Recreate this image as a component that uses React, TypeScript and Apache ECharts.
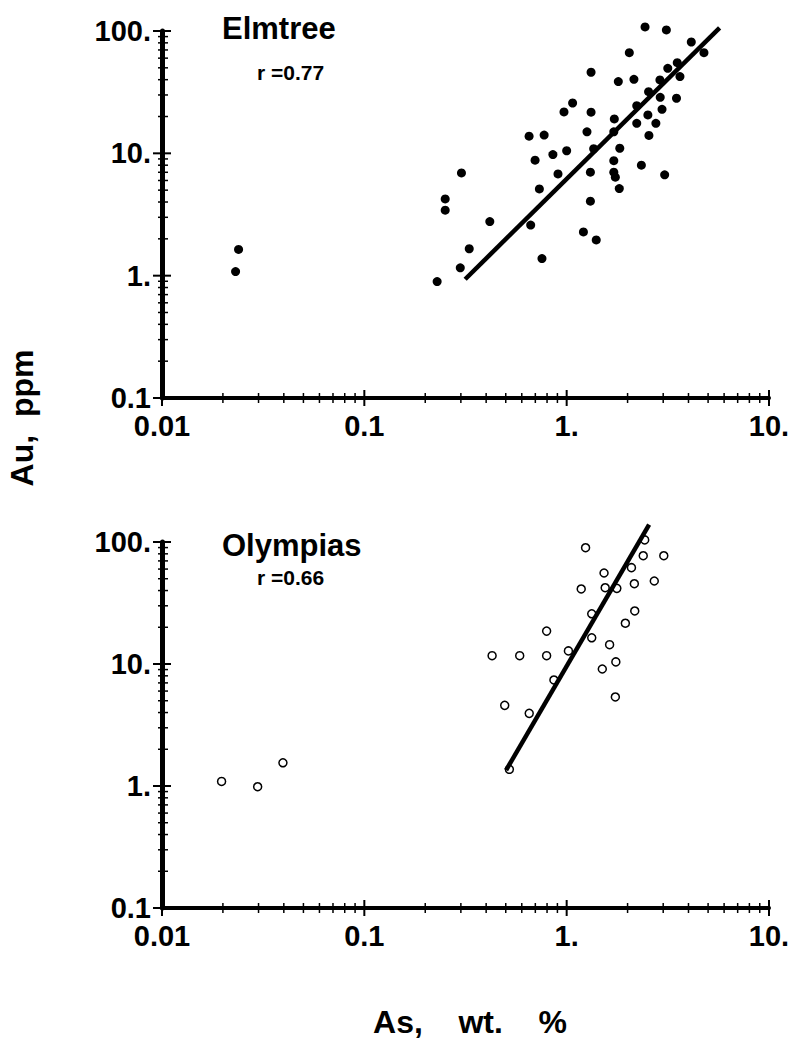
import React, { useEffect, useRef } from "react";
import * as echarts from "echarts";

// Elmtree: [As wt.%, Au ppm]
const elmtreeAs = [2.44, 3.11, 4.13, 4.77, 2.04, 3.52, 3.16, 3.63, 2.89, 2.15, 1.80, 1.32, 2.54, 2.90, 3.49, 2.22, 2.96, 2.52, 2.22, 2.76, 2.55, 1.72, 1.71, 1.32, 1.07, 0.97, 1.26, 0.652, 0.774, 0.698, 0.855, 1.00, 1.36, 1.83, 1.71, 2.34, 3.05, 1.71, 1.74, 1.82, 1.31, 0.906, 0.733, 0.302, 0.251, 0.251, 0.417, 0.664, 1.31, 1.21, 1.40, 0.330, 0.755, 0.298, 0.229, 0.0239, 0.0231];
const elmtreeAu = [108, 102, 81.3, 66.5, 66.5, 55.1, 49.5, 42.4, 39.8, 40.3, 38.6, 46.0, 31.9, 28.7, 28.2, 24.5, 22.9, 20.6, 17.6, 17.6, 14.0, 19.1, 15.0, 21.7, 25.8, 21.8, 15.0, 13.8, 14.1, 8.79, 9.76, 10.5, 10.9, 11.0, 8.71, 8.0, 6.67, 7.01, 6.38, 5.15, 7.01, 6.79, 5.12, 6.92, 4.24, 3.43, 2.77, 2.59, 4.06, 2.28, 1.96, 1.66, 1.38, 1.16, 0.895, 1.64, 1.08];
const elmtreeFitAs = [0.315, 5.7];
const elmtreeFitAu = [0.935, 106];

// Olympias: [As wt.%, Au ppm]
const olympiasAs = [2.43, 1.24, 2.39, 3.02, 2.09, 1.53, 2.16, 2.71, 1.18, 1.55, 1.77, 2.17, 1.33, 1.95, 0.796, 1.33, 1.63, 0.428, 0.586, 0.796, 1.02, 1.75, 1.50, 0.865, 1.74, 0.494, 0.653, 0.521, 0.0197, 0.0297, 0.0396];
const olympiasAu = [104, 89.8, 77.2, 77.2, 61.6, 55.7, 45.5, 47.9, 41.2, 42.2, 41.7, 27.2, 25.8, 21.6, 18.6, 16.4, 14.4, 11.7, 11.7, 11.7, 12.8, 10.4, 9.10, 7.40, 5.37, 4.58, 3.94, 1.37, 1.09, 0.987, 1.55];
const olympiasFitAs = [0.502, 2.556];
const olympiasFitAu = [1.35, 139];

// Axis ranges and tick labels
const xDecades = [0.01, 0.1, 1, 10];
const yDecades = [0.1, 1, 10, 100];
const xTickLabels = ["0.01", "0.1", "1.", "10."];
const yTickLabels = ["0.1", "1.", "10.", "100."];
const minorMultipliers = [2, 3, 4, 5, 6, 7, 8, 9];

const FONT = "'Liberation Sans', Arial, Helvetica, sans-serif";

function tickValues(decades: number[]) {
  const out: [number, number][] = [];
  decades.forEach((d, i) => {
    out.push([d, 1]);
    if (i < decades.length - 1) minorMultipliers.forEach((m) => out.push([+(d * m).toPrecision(6), 0]));
  });
  return out;
}

function zip(a: number[], b: number[]) {
  return a.map((v, i) => [v, b[i]]);
}

function labelFor(labels: number[], texts: string[]) {
  return (v: number) => {
    const idx = labels.findIndex((d) => Math.abs(Math.log10(d) - Math.log10(v)) < 1e-6);
    return idx >= 0 ? texts[idx] : "";
  };
}

export default function App() {
  const ref = useRef<HTMLDivElement>(null);
  useEffect(() => {
    if (!ref.current) return;
    const chart = echarts.init(ref.current, undefined, { renderer: "svg" });
    const xMin = xDecades[0];
    const xMax = xDecades[xDecades.length - 1];
    const yMin = yDecades[0];
    const yMax = yDecades[yDecades.length - 1];
    const xt = tickValues(xDecades);
    const yt = tickValues(yDecades);

    const mkX = (gi: number) => ({
      type: "log",
      logBase: 10,
      gridIndex: gi,
      min: xMin,
      max: xMax,
      axisLine: { lineStyle: { color: "#000", width: 4 } },
      axisTick: { show: false },
      splitLine: { show: false },
      axisLabel: {
        formatter: labelFor(xDecades, xTickLabels),
        color: "#000",
        fontFamily: FONT,
        fontWeight: "bold",
        fontSize: 29,
        margin: 13,
      },
    });
    const mkY = (gi: number) => ({
      type: "log",
      logBase: 10,
      gridIndex: gi,
      min: yMin,
      max: yMax,
      axisLine: { lineStyle: { color: "#000", width: 5 } },
      axisTick: { show: false },
      splitLine: { show: false },
      axisLabel: {
        formatter: labelFor(yDecades, yTickLabels),
        color: "#000",
        fontFamily: FONT,
        fontWeight: "bold",
        fontSize: 29,
        margin: 11,
      },
    });

    const xTickSeries = (gi: number) => ({
      type: "custom",
      xAxisIndex: gi,
      yAxisIndex: gi,
      silent: true,
      data: xt.map(([v, major]) => [v, yMin, major]),
      renderItem: (params: any, api: any) => {
        const p = api.coord([api.value(0), api.value(1)]);
        const major = api.value(2) === 1;
        const h = major ? 8 : 5;
        return {
          type: "line",
          shape: { x1: p[0], y1: p[1] - h, x2: p[0], y2: p[1] + h },
          style: { stroke: "#000", lineWidth: major ? 2 : 1.5 },
        };
      },
    });
    const yTickSeries = (gi: number) => ({
      type: "custom",
      xAxisIndex: gi,
      yAxisIndex: gi,
      silent: true,
      data: yt.map(([v, major]) => [xMin, v, major]),
      renderItem: (params: any, api: any) => {
        const p = api.coord([api.value(0), api.value(1)]);
        const major = api.value(2) === 1;
        return {
          type: "line",
          shape: { x1: p[0] - (major ? 9 : 4), y1: p[1], x2: p[0] + (major ? 9 : 6), y2: p[1] },
          style: { stroke: "#000", lineWidth: major ? 2 : 1.5 },
        };
      },
    });

    const textStyle = (size: number) => ({
      fill: "#000",
      fontFamily: FONT,
      fontWeight: "bold",
      fontSize: size,
    });

    chart.setOption({
      animation: false,
      backgroundColor: "#fff",
      grid: [
        { left: 162, right: 27, top: 31, height: 367 },
        { left: 162, right: 27, top: 542, height: 366 },
      ],
      xAxis: [mkX(0), mkX(1)],
      yAxis: [mkY(0), mkY(1)],
      graphic: [
        { type: "text", left: 222, top: 13, style: { ...textStyle(31), text: "Elmtree" } },
        { type: "text", left: 257, top: 62, style: { ...textStyle(21), text: "r =0.77" } },
        { type: "text", left: 222, top: 530, style: { ...textStyle(31), text: "Olympias" } },
        { type: "text", left: 257, top: 567, style: { ...textStyle(21), text: "r =0.66" } },
        {
          type: "text",
          x: 22,
          y: 418,
          rotation: Math.PI / 2,
          style: { ...textStyle(32), text: "Au,  ppm", align: "center", verticalAlign: "middle" },
        },
        {
          type: "text",
          x: 470,
          y: 1022,
          style: { ...textStyle(32), text: "As,    wt.    %", align: "center", verticalAlign: "middle" },
        },
      ],
      series: [
        xTickSeries(0),
        yTickSeries(0),
        xTickSeries(1),
        yTickSeries(1),
        {
          type: "scatter",
          xAxisIndex: 0,
          yAxisIndex: 0,
          clip: false,
          symbol: "circle",
          symbolSize: 9,
          itemStyle: { color: "#000", opacity: 1 },
          data: zip(elmtreeAs, elmtreeAu),
        },
        {
          type: "line",
          xAxisIndex: 0,
          yAxisIndex: 0,
          clip: false,
          showSymbol: false,
          lineStyle: { color: "#000", width: 4.5 },
          data: zip(elmtreeFitAs, elmtreeFitAu),
        },
        {
          type: "scatter",
          xAxisIndex: 1,
          yAxisIndex: 1,
          clip: false,
          symbol: "circle",
          symbolSize: 8,
          itemStyle: { color: "#fff", borderColor: "#000", borderWidth: 1.5, opacity: 1 },
          data: zip(olympiasAs, olympiasAu),
        },
        {
          type: "line",
          xAxisIndex: 1,
          yAxisIndex: 1,
          clip: false,
          showSymbol: false,
          lineStyle: { color: "#000", width: 4.5 },
          data: zip(olympiasFitAs, olympiasFitAu),
        },
      ],
    });
    return () => chart.dispose();
  }, []);
  return (
    <div
      ref={ref}
      style={{ position: "absolute", left: 0, top: 0, width: 796, height: 1050 }}
    />
  );
}
